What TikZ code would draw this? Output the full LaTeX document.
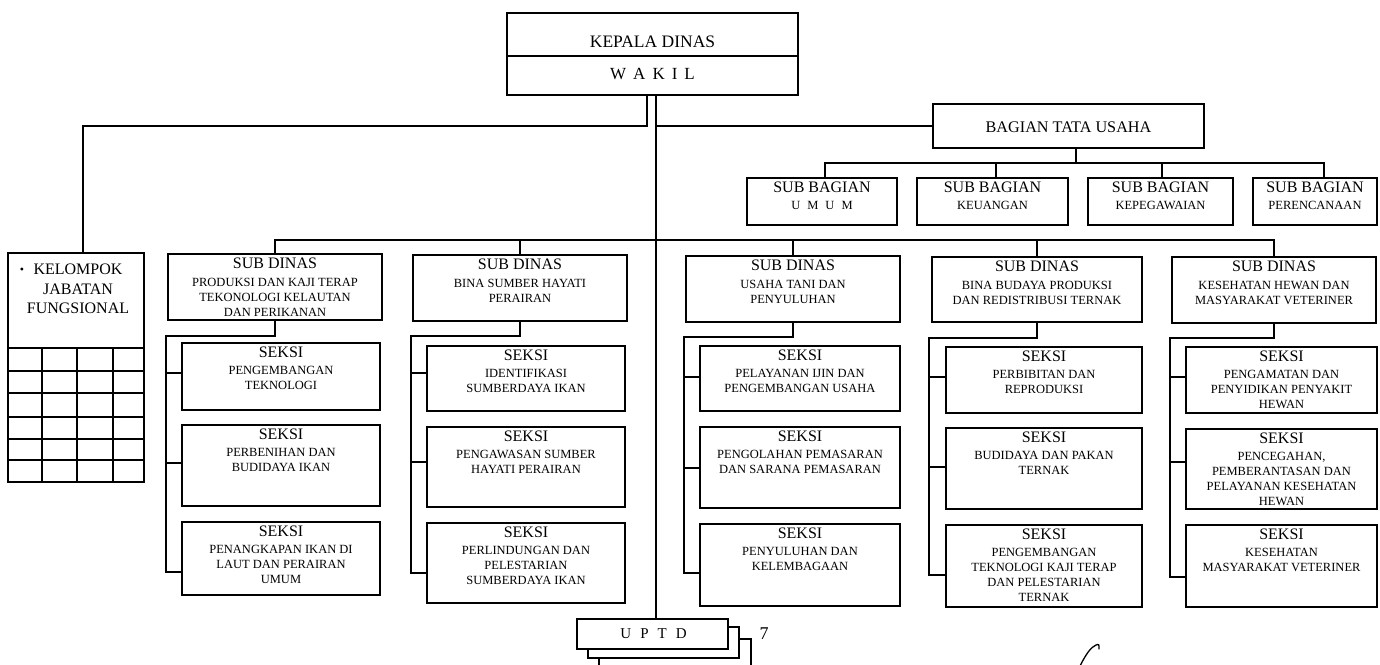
\documentclass[tikz,border=0pt]{standalone}
\usepackage{fontspec}
\setmainfont{Liberation Serif}
\usetikzlibrary{fit}
\newcommand\hd[1]{{\fontsize{16}{16}\selectfont #1}}
\tikzset{
  bxs/.style={draw, line width=1.3pt, inner sep=0pt, fill=white},
  lbl/.style={anchor=north, align=center, inner sep=0pt, font=\fontsize{12.5}{15}\selectfont},
  conn/.style={line width=1.3pt},
}
\newcommand\boxlbl[6]{%
  \node[bxs, fit={(#2,#3) (#4,#5)}] (#1) {};
  \node[lbl] (#1-t) at ([yshift=-4.8pt]#1.north) {#6};}
\begin{document}
\begin{tikzpicture}[x=1pt,y=-1pt]
\useasboundingbox[fill=white] (0,0) rectangle (1380,664);
\clip (0,0) rectangle (1380,664);

% ---------- top ----------
\node[bxs, fit={(507,13) (798,95)}] (kd) {};
\draw[conn] (kd.west |- 0,56) -- (kd.east |- 0,56);
\node[font=\fontsize{17.5}{18}\selectfont, inner sep=0pt] (kdt) at (kd.center |- 0,41.5) {KEPALA DINAS};
\node[font=\fontsize{17}{18}\selectfont, inner sep=0pt] (wk) at (kd.center |- 0,74.5) {W\hspace{7pt}A\hspace{7pt}K\hspace{7pt}I\hspace{7pt}L};

\node[bxs, fit={(933,104) (1204,148)}] (btu) {};
\node[font=\fontsize{16.2}{17}\selectfont, inner sep=0pt] (btut) at ([yshift=-1pt]btu.center) {BAGIAN TATA USAHA};

% ---------- sub bagian ----------
\newcommand\sbl[1]{\hd{SUB BAGIAN}\\[1.7pt]#1}
\boxlbl{sb1}{747}{178}{897}{225}{\sbl{U\hspace{7pt}M\hspace{7pt}U\hspace{7pt}M}}
\boxlbl{sb2}{917}{178}{1068}{225}{\sbl{KEUANGAN}}
\boxlbl{sb3}{1088}{178}{1233}{225}{\sbl{KEPEGAWAIAN}}
\boxlbl{sb4}{1253}{178}{1377}{225}{\sbl{PERENCANAAN}}

% ---------- kelompok jabatan fungsional ----------
\node[bxs, fit={(8,253) (144,482)}] (kjf) {};
\node[anchor=north, align=center, inner sep=0pt, font=\fontsize{16}{19.5}\selectfont] (kjft) at ([xshift=2pt,yshift=-11.7pt]kjf.north) {KELOMPOK\\JABATAN\\FUNGSIONAL};
\node[inner sep=0pt, font=\fontsize{12}{12}\selectfont] (kjfb) at (22,271) {•};
\draw[conn] (kjf.west |- 0,348) -- (kjf.east |- 0,348);
\foreach \yy in {371,393,417,439,460} \draw[conn] (kjf.west |- 0,\yy) -- (kjf.east |- 0,\yy);
\foreach \xx in {42,77,113} \draw[conn] (\xx,348) -- (kjf.south -| \xx,0);

% ---------- sub dinas ----------
\newcommand\sdl[1]{\hd{SUB DINAS}\\[3pt]#1}
\newcommand\skl[1]{\hd{SEKSI}\\[1.5pt]#1}
\boxlbl{sd1}{168}{254}{382}{320}{\sdl{PRODUKSI DAN KAJI TERAP\\TEKONOLOGI KELAUTAN\\DAN PERIKANAN}}
\boxlbl{sd2}{413}{255}{627}{321}{\sdl{BINA SUMBER HAYATI\\PERAIRAN}}
\boxlbl{sd3}{686}{256}{900}{322}{\sdl{USAHA TANI DAN\\PENYULUHAN}}
\boxlbl{sd4}{932}{257}{1142}{322}{\sdl{BINA BUDAYA PRODUKSI\\DAN REDISTRIBUSI TERNAK}}
\boxlbl{sd5}{1172}{257}{1376}{323}{\sdl{KESEHATAN HEWAN DAN\\MASYARAKAT VETERINER}}

% column 1
\boxlbl{s11}{182}{343}{380}{410}{\skl{PENGEMBANGAN\\TEKNOLOGI}}
\boxlbl{s12}{182}{425}{380}{506}{\skl{PERBENIHAN DAN\\BUDIDAYA IKAN}}
\boxlbl{s13}{182}{522}{380}{595}{\skl{PENANGKAPAN IKAN DI\\LAUT DAN PERAIRAN\\UMUM}}
% column 2
\boxlbl{s21}{427}{346}{625}{411}{\skl{IDENTIFIKASI\\SUMBERDAYA IKAN}}
\boxlbl{s22}{427}{427}{625}{507}{\skl{PENGAWASAN SUMBER\\HAYATI PERAIRAN}}
\boxlbl{s23}{427}{523}{625}{603}{\skl{PERLINDUNGAN DAN\\PELESTARIAN\\SUMBERDAYA IKAN}}
% column 3
\boxlbl{s31}{700}{346}{900}{411}{\skl{PELAYANAN IJIN DAN\\PENGEMBANGAN USAHA}}
\boxlbl{s32}{700}{427}{900}{508}{\skl{PENGOLAHAN PEMASARAN\\DAN SARANA PEMASARAN}}
\boxlbl{s33}{700}{524}{900}{606}{\skl{PENYULUHAN DAN\\KELEMBAGAAN}}
% column 4
\boxlbl{s41}{946}{347}{1142}{413}{\skl{PERBIBITAN DAN\\REPRODUKSI}}
\boxlbl{s42}{946}{428}{1142}{509}{\skl{BUDIDAYA DAN PAKAN\\TERNAK}}
\boxlbl{s43}{946}{525}{1142}{607}{\skl{PENGEMBANGAN\\TEKNOLOGI KAJI TERAP\\DAN PELESTARIAN\\TERNAK}}
% column 5
\boxlbl{s51}{1186}{347}{1377}{413}{\skl{PENGAMATAN DAN\\PENYIDIKAN PENYAKIT\\HEWAN}}
\boxlbl{s52}{1186}{429}{1377}{509}{\skl{PENCEGAHAN,\\PEMBERANTASAN DAN\\PELAYANAN KESEHATAN\\HEWAN}}
\boxlbl{s53}{1186}{525}{1377}{607}{\skl{KESEHATAN\\MASYARAKAT VETERINER}}

% ---------- UPTD ----------
\node[bxs, fit={(599,639) (751,672)}] (up3) {};
\node[bxs, fit={(588,627) (739,658)}] (up2) {};
\node[bxs, fit={(577,619) (728,649)}] (uptd) {};
\node[font=\fontsize{15}{15}\selectfont, inner sep=0pt] (uptdt) at ([xshift=1pt]uptd.center) {U\hspace{9pt}P\hspace{9pt}T\hspace{9pt}D};
\node[font=\fontsize{18}{18}\selectfont, inner sep=0pt] (seven) at (764,633.5) {7};

% signature stroke
\draw[line width=1.3pt, line cap=round] (1080,666) .. controls (1086,654) and (1091,647) .. (1096,645) .. controls (1099,644) .. (1099,649);

% ---------- connectors ----------
\coordinate (mx) at (656,0);
\coordinate (lx) at (647,126);
\draw[conn] (kd.south -| lx) -- (lx) -| ([xshift=7pt]kjf.north);
\draw[conn] (kd.south -| mx) -- (uptd.north -| mx);
\draw[conn] (btu.west) -- (btu.west -| mx);

\coordinate (sbb) at (0,163);
\draw[conn] ([xshift=7.5pt]btu.south) -- ([xshift=7.5pt]btu.south |- sbb);
\draw[conn] ([xshift=3pt]sb1.north) |- ([xshift=9pt]sb4.north |- sbb) -- ([xshift=9pt]sb4.north);
\draw[conn] ([xshift=3.5pt]sb2.north) -- ([xshift=3.5pt]sb2.north |- sbb);
\draw[conn] ([xshift=1.5pt]sb3.north) -- ([xshift=1.5pt]sb3.north |- sbb);

\coordinate (sdb) at (0,240);
\draw[conn] (sd1.north) |- (sd5.north |- sdb) -- (sd5.north);
\foreach \i in {2,3,4} \draw[conn] (sd\i.north) -- (sd\i.north |- sdb);

% column spines: id / spine x / elbow y / tick ys
\foreach \c/\sx/\ey/\ta/\tb/\tc in {1/166/336/373/463/572, 2/411/336/373/462/573, 3/684/337/377/468/573, 4/929/338/377/467/575, 5/1170/338/377/462/577}{
  \draw[conn] (sd\c.south) |- (\sx,\ey) -- (\sx,\tc) -- (s\c3.west |- 0,\tc);
  \draw[conn] (\sx,\ta) -- (s\c1.west |- 0,\ta);
  \draw[conn] (\sx,\tb) -- (s\c2.west |- 0,\tb);
}
\end{tikzpicture}
\end{document}
